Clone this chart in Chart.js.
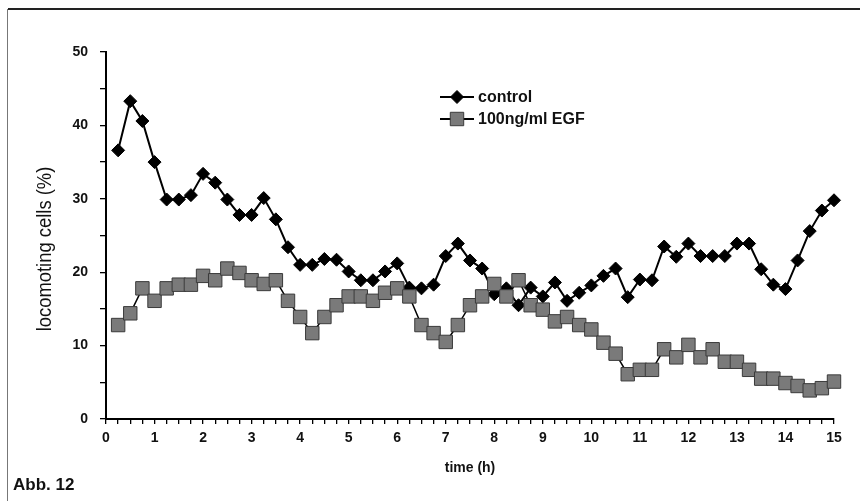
<!DOCTYPE html>
<html>
<head>
<meta charset="utf-8">
<script src="https://cdn.jsdelivr.net/npm/chart.js@4.4.1/dist/chart.umd.min.js"></script>
<style>
  html, body { margin: 0; padding: 0; background: #fff; }
  #wrap { position: relative; width: 860px; height: 501px; overflow: hidden; }
  #frameTop { position: absolute; left: 8px; top: 8px; width: 852px; height: 0; border-top: 2px solid #222; }
  #frameLeft { position: absolute; left: 7px; top: 9px; width: 0; height: 492px; border-left: 1px solid #777; }
  #caption { position: absolute; left: 13px; top: 475px; font: bold 17px "Liberation Sans Narrow", "Liberation Sans", Arial, sans-serif; color: #111; }
  canvas { position: absolute; left: 0; top: 0; }
</style>
</head>
<body>
<div id="wrap">
  <div id="frameTop"></div>
  <div id="frameLeft"></div>
  <canvas id="chart" width="860" height="501"></canvas>
  <div id="caption">Abb. 12</div>
</div>
<script>
const times = [0.25, 0.5, 0.75, 1, 1.25, 1.5, 1.75, 2, 2.25, 2.5, 2.75, 3, 3.25, 3.5, 3.75, 4,
  4.25, 4.5, 4.75, 5, 5.25, 5.5, 5.75, 6, 6.25, 6.5, 6.75, 7, 7.25, 7.5, 7.75, 8,
  8.25, 8.5, 8.75, 9, 9.25, 9.5, 9.75, 10, 10.25, 10.5, 10.75, 11, 11.25, 11.5, 11.75, 12,
  12.25, 12.5, 12.75, 13, 13.25, 13.5, 13.75, 14, 14.25, 14.5, 14.75, 15];

const control = [36.6, 43.3, 40.6, 35.0, 29.9, 29.9, 30.5, 33.4, 32.2, 29.9, 27.8, 27.8, 30.1, 27.2, 23.4, 21.0,
  21.0, 21.8, 21.7, 20.1, 18.9, 18.9, 20.1, 21.2, 17.9, 17.8, 18.3, 22.2, 23.9, 21.6, 20.5, 17.0,
  17.8, 15.5, 17.9, 16.7, 18.6, 16.1, 17.2, 18.2, 19.5, 20.5, 16.6, 19.0, 18.9, 23.5, 22.1, 23.9,
  22.2, 22.2, 22.2, 23.9, 23.9, 20.4, 18.3, 17.7, 21.6, 25.6, 28.4, 29.8];

const egf = [12.8, 14.4, 17.8, 16.1, 17.8, 18.3, 18.3, 19.5, 18.9, 20.5, 19.9, 18.9, 18.4, 18.9, 16.1, 13.9,
  11.7, 13.9, 15.5, 16.7, 16.7, 16.1, 17.2, 17.8, 16.7, 12.8, 11.7, 10.5, 12.8, 15.5, 16.7, 18.4,
  16.7, 18.9, 15.5, 14.9, 13.3, 13.9, 12.8, 12.2, 10.4, 8.9, 6.1, 6.7, 6.7, 9.5, 8.4, 10.1,
  8.4, 9.5, 7.8, 7.8, 6.7, 5.5, 5.5, 4.9, 4.5, 3.9, 4.2, 5.1];

const seriesNames = ["control", "100ng/ml EGF"];
const xTitle = "time (h)";
const yTitle = "locomoting cells (%)";

const FONT = '"Liberation Sans", Arial, sans-serif';

function points(values) {
  return values.map((v, i) => ({ x: times[i], y: v }));
}

// legend + y title drawn by hand, the original has a free-floating key
const extras = {
  id: "extras",
  afterDraw(chart) {
    const ctx = chart.ctx;
    ctx.save();
    ctx.fillStyle = "#111";
    ctx.font = "20px " + FONT;
    ctx.translate(45, 249);
    ctx.rotate(-Math.PI / 2);
    ctx.scale(0.92, 1);
    ctx.textAlign = "center";
    ctx.textBaseline = "middle";
    ctx.fillText(yTitle, 0, 0);
    ctx.restore();

    chart.data.datasets.forEach((ds, i) => {
      const y = 97 + i * 22;
      ctx.save();
      ctx.strokeStyle = "#000";
      ctx.lineWidth = 2;
      ctx.beginPath();
      ctx.moveTo(440, y);
      ctx.lineTo(474, y);
      ctx.stroke();
      ctx.fillStyle = ds.pointBackgroundColor;
      ctx.strokeStyle = ds.pointBorderColor;
      ctx.lineWidth = ds.pointBorderWidth;
      Chart.helpers.drawPoint(ctx, { pointStyle: ds.pointStyle, radius: ds.pointRadius, borderWidth: ds.pointBorderWidth }, 457, y);
      ctx.fillStyle = "#111";
      ctx.font = "bold 16px " + FONT;
      ctx.textBaseline = "middle";
      ctx.fillText(seriesNames[i], 478, y + 1);
      ctx.restore();
    });
  }
};

new Chart(document.getElementById("chart"), {
  type: "line",
  data: {
    datasets: [
      {
        label: seriesNames[0], data: points(control), order: 1, clip: false,
        borderColor: "#000", borderWidth: 2, tension: 0,
        pointStyle: "rectRot", pointRadius: 6.5, pointBackgroundColor: "#000", pointBorderColor: "#000", pointBorderWidth: 1
      },
      {
        label: seriesNames[1], data: points(egf), order: 0, clip: false,
        borderColor: "#000", borderWidth: 1.5, tension: 0,
        pointStyle: "rect", pointRadius: 9.5, pointBackgroundColor: "#7a7a7a", pointBorderColor: "#3a3a3a", pointBorderWidth: 1
      }
    ]
  },
  options: {
    responsive: false,
    animation: false,
    devicePixelRatio: 1,
    layout: { padding: { top: 52, right: 26, left: 0, bottom: 0 } },
    plugins: { legend: { display: false }, tooltip: { enabled: false } },
    scales: {
      x: {
        type: "linear", min: 0, max: 15,
        afterFit: s => { s.height = 82; },
        border: { display: true, color: "#000", width: 2 },
        grid: { drawOnChartArea: false, drawTicks: true, tickLength: 5, color: "#000", lineWidth: 1.3 },
        ticks: {
          stepSize: 0.25, autoSkip: false, maxRotation: 0, padding: 6, color: "#111",
          font: { family: FONT, size: 14, weight: "bold" },
          callback: v => Number.isInteger(v) ? v : ""
        },
        title: { display: true, text: xTitle, color: "#111", padding: { top: 4, bottom: 24 },
          font: { family: FONT, size: 14, weight: "bold" } }
      },
      y: {
        min: 0, max: 50,
        afterFit: s => { s.width = 106; },
        border: { display: true, color: "#000", width: 2 },
        grid: { drawOnChartArea: false, drawTicks: true, tickLength: 6, color: "#000", lineWidth: 1.3 },
        ticks: {
          stepSize: 5, padding: 12, color: "#111",
          font: { family: FONT, size: 14, weight: "bold" },
          callback: v => v % 10 === 0 ? v : ""
        }
      }
    }
  },
  plugins: [extras]
});
</script>
</body>
</html>
